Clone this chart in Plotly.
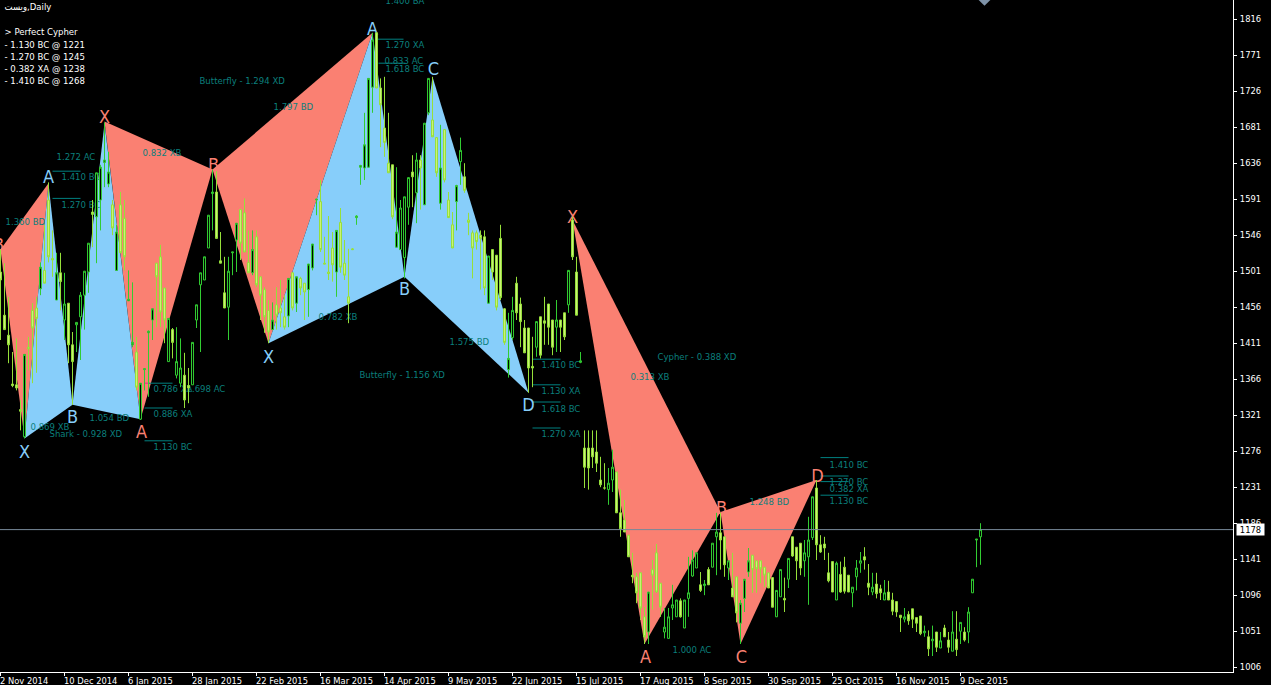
'''
Daily candle chart with harmonic patterns drawn over it
'''
import plotly.graph_objects as go

''' DATA '''
opens = [1500,1446,1421,1360,1359,1328,1294,1406,1452,1455,1479,1502,1590,1517,1465,1499,1440,1461,1409,1434,
         1444,1471,1500,1575,1569,1590,1637,1610,1584,1502,1584,1567,1464,1409,1400,1316,1378,1424,1440,1511,
         1519,1480,1388,1428,1371,1361,1371,1358,1359,1440,1484,1490,1530,1598,1600,1514,1474,1456,1524,1540,
         1578,1574,1512,1499,1544,1494,1478,1452,1428,1459,1455,1444,1445,1499,1461,1492,1486,1478,1505,1590,
         1588,1511,1500,1530,1500,1562,1511,1469,1529,1568,1631,1630,1631,1731,1799,1730,1680,1636,1634,1531,
         1528,1518,1581,1625,1599,1640,1584,1699,1690,1668,1586,1678,1590,1559,1588,1638,1619,1565,1549,1549,
         1546,1544,1461,1528,1521,1542,1454,1378,1418,1486,1460,1430,1430,1382,1406,1444,1439,1460,1440,1431,
         1440,1449,1459,1565,1500,1387,1280,1280,1280,1275,1240,1230,1228,1240,1250,1199,1190,1171,1121,1119,
         1124,1069,1050,1128,1149,1111,1050,1042,1080,1069,1089,1055,1092,1120,1130,1109,1108,1128,1131,1169,
         1174,1169,1130,1105,1119,1061,1092,1125,1146,1139,1139,1131,1124,1118,1069,1094,1092,1116,1169,1156,
         1161,1139,1144,1168,1230,1159,1160,1124,1138,1090,1122,1131,1121,1099,1119,1136,1144,1111,1100,1110,
         1104,1090,1100,1090,1088,1071,1066,1072,1079,1068,1070,1049,1044,1039,1050,1030,1055,1040,1026,1041,
         1051,1050,1050,1099,1165,1169]
highs = [1528,1511,1469,1400,1417,1340,1397,1419,1461,1469,1512,1559,1612,1552,1524,1524,1499,1461,1425,1437,
         1475,1501,1536,1590,1624,1634,1687,1650,1590,1559,1600,1590,1502,1487,1419,1361,1380,1427,1454,1511,
         1534,1480,1442,1430,1431,1417,1399,1380,1412,1459,1499,1519,1571,1628,1626,1550,1519,1519,1525,1561,
         1578,1592,1552,1552,1552,1494,1481,1465,1462,1481,1490,1471,1492,1500,1494,1494,1486,1510,1535,1591,
         1615,1544,1570,1550,1552,1580,1540,1529,1530,1571,1634,1699,1742,1799,1800,1742,1744,1699,1634,1631,
         1590,1594,1618,1646,1649,1646,1686,1742,1744,1668,1684,1678,1600,1575,1609,1668,1636,1574,1552,1552,
         1552,1552,1520,1528,1521,1559,1455,1449,1469,1494,1468,1440,1430,1419,1438,1444,1469,1460,1440,1465,
         1440,1449,1502,1569,1519,1400,1302,1302,1302,1302,1269,1261,1255,1278,1250,1228,1215,1171,1149,1124,
         1124,1081,1100,1140,1160,1111,1080,1080,1109,1090,1092,1090,1144,1152,1149,1125,1115,1131,1161,1199,
         1199,1169,1139,1149,1119,1090,1116,1155,1146,1139,1139,1131,1124,1118,1102,1128,1118,1142,1169,1156,
         1161,1165,1194,1219,1240,1171,1169,1149,1138,1138,1138,1144,1121,1106,1140,1150,1156,1135,1124,1124,
         1109,1115,1114,1099,1088,1071,1080,1076,1079,1068,1070,1058,1052,1058,1050,1050,1059,1050,1076,1076,
         1062,1056,1081,1116,1166,1186]
lows = [1415,1428,1386,1356,1352,1302,1292,1377,1361,1374,1471,1486,1512,1494,1465,1452,1415,1386,1334,1400,
        1390,1428,1474,1531,1511,1552,1606,1606,1546,1502,1524,1502,1464,1406,1352,1315,1352,1344,1415,1431,
        1431,1411,1388,1392,1367,1356,1330,1336,1359,1430,1400,1490,1530,1552,1542,1511,1455,1415,1496,1500,
        1515,1525,1499,1496,1481,1440,1424,1411,1428,1428,1431,1428,1431,1452,1450,1471,1440,1444,1502,1571,
        1525,1510,1490,1488,1469,1499,1490,1436,1528,1559,1609,1615,1631,1699,1730,1656,1644,1624,1566,1531,
        1528,1492,1559,1581,1561,1578,1584,1696,1669,1619,1578,1612,1568,1530,1552,1609,1599,1546,1492,1528,
        1478,1471,1461,1490,1452,1465,1409,1368,1415,1440,1406,1399,1349,1356,1394,1392,1409,1409,1396,1400,
        1400,1415,1449,1515,1446,1386,1230,1228,1255,1250,1231,1228,1209,1225,1199,1169,1175,1144,1111,1086,
        1065,1035,1035,1078,1099,1069,1042,1042,1065,1069,1068,1055,1069,1119,1130,1100,1096,1109,1131,1121,
        1128,1119,1115,1094,1062,1035,1075,1119,1099,1099,1111,1106,1105,1081,1069,1094,1075,1105,1144,1115,
        1121,1119,1084,1165,1140,1149,1140,1112,1100,1090,1099,1098,1100,1081,1102,1124,1128,1096,1096,1092,
        1090,1090,1090,1071,1069,1050,1062,1059,1055,1050,1046,1044,1020,1020,1025,1030,1044,1024,1026,1020,
        1035,1038,1036,1099,1131,1134]
closes = [1490,1428,1409,1358,1355,1326,1397,1404,1430,1442,1506,1486,1519,1515,1499,1488,1460,1409,1388,1437,
          1471,1501,1536,1572,1624,1631,1640,1625,1555,1550,1524,1519,1466,1412,1356,1361,1379,1426,1454,1494,
          1450,1440,1442,1412,1388,1380,1340,1355,1412,1459,1499,1519,1571,1600,1542,1511,1455,1501,1525,1561,
          1536,1525,1499,1528,1484,1471,1444,1425,1440,1446,1449,1431,1492,1455,1494,1480,1475,1510,1535,1591,
          1528,1510,1498,1509,1552,1506,1496,1461,1528,1570,1633,1659,1742,1790,1730,1709,1662,1624,1569,1550,
          1580,1594,1618,1619,1640,1630,1686,1742,1669,1624,1630,1615,1568,1530,1608,1652,1602,1562,1530,1538,
          1542,1480,1520,1500,1456,1468,1412,1392,1452,1449,1438,1399,1380,1380,1438,1396,1436,1431,1406,1440,
          1431,1419,1502,1519,1446,1389,1256,1255,1269,1261,1234,1230,1236,1256,1199,1179,1175,1144,1119,1099,
          1080,1044,1100,1121,1100,1081,1056,1069,1084,1090,1069,1090,1099,1140,1149,1102,1110,1109,1161,1175,
          1165,1134,1139,1094,1074,1086,1116,1139,1128,1129,1129,1121,1105,1081,1102,1128,1090,1142,1145,1139,
          1130,1149,1165,1219,1159,1150,1155,1114,1100,1136,1100,1101,1100,1106,1130,1139,1140,1106,1106,1098,
          1099,1099,1090,1076,1075,1068,1069,1064,1066,1061,1048,1051,1029,1041,1031,1039,1044,1031,1050,1028,
          1062,1040,1075,1116,1166,1178]

x_tick_bars = [0, 16, 32, 48, 64, 80, 96, 112, 128, 144, 160, 176, 192, 208, 224, 240]
x_tick_labels = ['2 Nov 2014', '10 Dec 2014', '6 Jan 2015', '28 Jan 2015', '22 Feb 2015', '16 Mar 2015',
                 '14 Apr 2015', '9 May 2015', '22 Jun 2015', '15 Jul 2015', '17 Aug 2015', '8 Sep 2015',
                 '30 Sep 2015', '25 Oct 2015', '16 Nov 2015', '9 Dec 2015']
y_ticks = [1816, 1771, 1726, 1681, 1636, 1591, 1546, 1501, 1456, 1411, 1366, 1321,
           1276, 1231, 1186, 1141, 1096, 1051, 1006]
last_price = 1178

# pattern corners: bars and prices, one triangle per row
red_tri_bars = [[0, 12, 6], [26, 35, 53], [53, 67, 93], [143, 161, 180], [180, 185, 204]]
red_tri_prices = [[1528, 1611, 1292], [1688, 1316, 1628], [1628, 1411, 1799], [1565, 1035, 1200], [1200, 1035, 1240]]
blue_tri_bars = [[6, 12, 18], [18, 26, 35], [67, 93, 101], [101, 108, 132]]
blue_tri_prices = [[1292, 1611, 1334], [1334, 1686, 1316], [1411, 1799, 1494], [1494, 1744, 1349]]

blue_letters = ['X', 'A', 'B', 'X', 'A', 'C', 'B', 'D']
blue_letter_bars = [6, 12, 18, 67, 93, 108.25, 101, 132]
blue_letter_prices = [1273.5, 1616.5, 1317.5, 1392.5, 1802.5, 1752.5, 1477.5, 1331.5]
red_letters = ['B', 'X', 'A', 'B', 'X', 'A', 'B', 'C', 'D']
red_letter_bars = [-0.5, 26, 35.25, 53.25, 143, 161.25, 180.25, 185.25, 204.25]
red_letter_prices = [1531.5, 1692.5, 1298.5, 1631.5, 1567.5, 1017.5, 1203.5, 1017.5, 1243.5]

ratio_texts = ['1.360 BD', '1.272 AC', '1.410 BC', '1.270 BC', '0.832 XB', 'Butterfly - 1.294 XD', '1.797 BD',
               '1.400 BA', '1.270 XA', '0.833 AC', '1.618 BC', '0.786 XA', '1.698 AC', '0.886 XA', '1.130 BC',
               '1.054 BD', '0.869 XB', 'Shark - 0.928 XD', '0.782 XB', 'Butterfly - 1.156 XD', '1.575 BD',
               '1.410 BC', '1.130 XA', '1.618 BC', '1.270 XA', '0.313 XB', 'Cypher - 0.388 XD', '1.248 BD',
               '1.410 BC', '1.270 BC', '0.382 XA', '1.130 BC', '1.000 AC']
ratio_bars = [1.25, 14, 15.25, 15.25, 35.5, 49.75, 68.25, 96.25, 96.25, 96, 96.25, 38.25, 46.5, 38.25, 38.25,
              22.25, 7.5, 12.25, 79.5, 89.75, 112.25, 135.25, 135.25, 135.25, 135.25, 157.5, 164.25, 187.25,
              207.25, 207.25, 207.25, 207.25, 168]
ratio_prices = [1561.5, 1643.5, 1617.5, 1583.5, 1648.5, 1737.5, 1705, 1838, 1782.5, 1763.5, 1752.5, 1353.5,
                1353.5, 1321.5, 1280, 1316.5, 1305, 1296.5, 1443.5, 1370, 1411.5, 1382.5, 1350, 1328.5, 1296.5,
                1368.5, 1392.5, 1211.5, 1258.5, 1236.5, 1228.5, 1212.5, 1026.5]

level_starts = [13, 13, 37, 36, 36, 94.25, 94.5, 133, 133, 133, 133, 205, 205, 205, 205]
level_ends = [20, 20, 43, 43, 43, 100.75, 101.25, 140, 140, 140, 140, 212, 212, 212, 212]
level_prices = [1626, 1592, 1361, 1330, 1289, 1791, 1761, 1391, 1359, 1337.5, 1305, 1268, 1245, 1238, 1221]

info_lines = ['ویست,Daily', '> Perfect Cypher', '- 1.130 BC @ 1221', '- 1.270 BC @ 1245',
              '- 0.382 XA @ 1238', '- 1.410 BC @ 1268']
info_prices = [1830, 1799, 1783, 1768, 1753, 1738]

SMALL_FONT = 'DejaVu Sans Condensed, Liberation Sans, sans-serif'
TEAL = '#0B7F7C'

''' FIGURE '''
fig = go.Figure()

# triangles sit on the base axes, candles go on an overlay so they stay in front
for bars, prices in zip(red_tri_bars, red_tri_prices):
    fig.add_trace(go.Scatter(x=bars, y=prices, mode='lines', fill='toself', fillcolor='#FA8072',
                             line=dict(width=0, color='#FA8072')))
for bars, prices in zip(blue_tri_bars, blue_tri_prices):
    fig.add_trace(go.Scatter(x=bars, y=prices, mode='lines', fill='toself', fillcolor='#87CEFA',
                             line=dict(width=0, color='#87CEFA')))

level_x, level_y = [], []
for a, b, p in zip(level_starts, level_ends, level_prices):
    level_x += [a, b, None]
    level_y += [p, p, None]
fig.add_trace(go.Scatter(x=level_x, y=level_y, mode='lines', line=dict(color='#008080', width=1)))
fig.add_trace(go.Scatter(x=[36, 37], y=[1361, 1361], mode='lines', line=dict(color='#FF1493', width=1)))

fig.add_trace(go.Scatter(x=ratio_bars, y=ratio_prices, text=ratio_texts, mode='text', textposition='middle right',
                         textfont=dict(family=SMALL_FONT, size=9.5, color=TEAL)))
fig.add_trace(go.Scatter(x=blue_letter_bars, y=blue_letter_prices, text=blue_letters, mode='text',
                         textposition='middle center',
                         textfont=dict(family=SMALL_FONT, size=18, color='#87CEFA')))
fig.add_trace(go.Scatter(x=red_letter_bars, y=red_letter_prices, text=red_letters, mode='text',
                         textposition='middle center',
                         textfont=dict(family=SMALL_FONT, size=18, color='#FA8072')))
fig.add_trace(go.Scatter(x=[246], y=[1840], mode='markers',
                         marker=dict(symbol='diamond', size=9, color='#7F93A8')))
fig.add_trace(go.Scatter(x=[1] * len(info_lines), y=info_prices, text=info_lines, mode='text',
                         textposition='middle right',
                         textfont=dict(family=SMALL_FONT, size=9.5, color='white')))

fig.add_trace(go.Candlestick(x=list(range(len(opens))), open=opens, high=highs, low=lows, close=closes,
                             xaxis='x2', yaxis='y2', whiskerwidth=0,
                             increasing=dict(line=dict(color='#32CD32', width=1), fillcolor='#000000'),
                             decreasing=dict(line=dict(color='#96E03A', width=1), fillcolor='#CFF27A')))

x_range = [-0.125, 308.125]
y_range = [1000, 1840]
fig.update_layout(
    width=1271, height=685, showlegend=False, hovermode=False,
    margin=dict(l=0, r=38, t=0, b=13),
    paper_bgcolor='black', plot_bgcolor='black',
    xaxis=dict(range=x_range, tickvals=x_tick_bars, showticklabels=False, ticks='outside', ticklen=3,
               tickcolor='white', showgrid=False, zeroline=False, showline=True, linecolor='white'),
    yaxis=dict(range=y_range, side='right', tickvals=y_ticks, ticks='outside', ticklen=3, tickcolor='white',
               tickfont=dict(family=SMALL_FONT, size=9.3, color='white'), showgrid=False, zeroline=False,
               showline=True, linecolor='white', ticklabelstandoff=1),
    xaxis2=dict(range=x_range, overlaying='x', visible=False, rangeslider=dict(visible=False)),
    yaxis2=dict(range=y_range, overlaying='y', visible=False),
)

fig.add_hline(y=last_price, line=dict(color='#778899', width=1), layer='above')
fig.add_annotation(x=1, xref='paper', xanchor='left', xshift=3, y=last_price, yref='y', text=str(last_price),
                   showarrow=False, bgcolor='white', borderpad=0, width=27, height=11,
                   font=dict(family=SMALL_FONT, size=9.3, color='black'))

# date labels start at the tick instead of being centred on it
for bar, label in zip(x_tick_bars, x_tick_labels):
    fig.add_annotation(x=bar, xref='x', y=0, yref='paper', xanchor='left', yanchor='top', xshift=-2, yshift=-2,
                       text=label, showarrow=False, borderpad=0,
                       font=dict(family=SMALL_FONT, size=9.3, color='white'))

fig.write_html("out.html", config=dict(displayModeBar=False),
               post_script="document.body.style.margin='0';document.documentElement.style.overflow='hidden';")
